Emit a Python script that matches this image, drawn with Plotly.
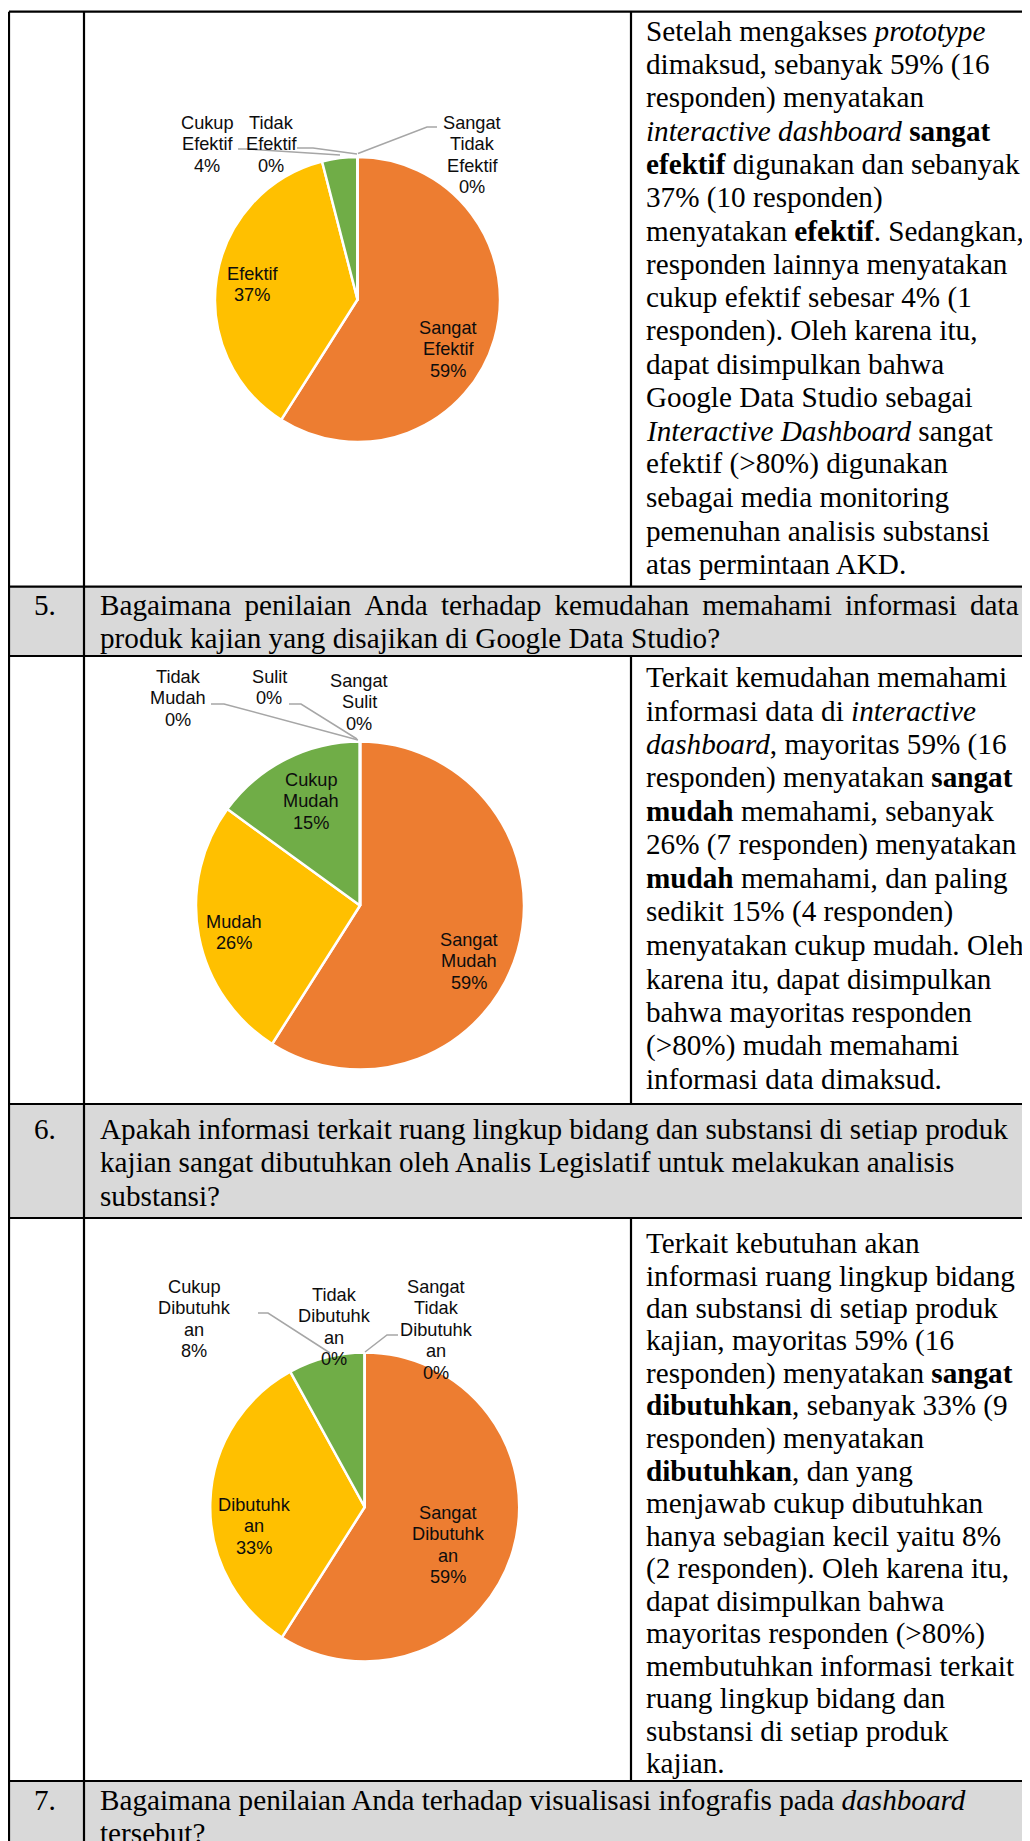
import plotly.graph_objects as go

W, H = 1030, 1841          # screenshot size
OFF = 8                    # default page (body) margin around the figure
FW, FH = W - OFF, H - OFF  # figure size so that it fills the window exactly

# ---------------- data ----------------
pie1_labels = ["Sangat Efektif", "Efektif", "Cukup Efektif", "Tidak Efektif", "Sangat Tidak Efektif"]
pie1_values = [59, 37, 4, 0, 0]

pie2_labels = ["Sangat Mudah", "Mudah", "Cukup Mudah", "Tidak Mudah", "Sulit", "Sangat Sulit"]
pie2_values = [59, 26, 15, 0, 0, 0]

pie3_labels = ["Sangat Dibutuhkan", "Dibutuhkan", "Cukup Dibutuhkan", "Tidak Dibutuhkan", "Sangat Tidak Dibutuhkan"]
pie3_values = [59, 33, 8, 0, 0]

slice_colors = ["#ED7D31", "#FFC000", "#70AD47", "#A5A5A5", "#4472C4", "#5B9BD5"]

q_numbers = ["5.", "6.", "7."]
q5_lines = ["Bagaimana penilaian Anda terhadap kemudahan memahami informasi data",
            "produk kajian yang disajikan di Google Data Studio?"]
q6_lines = ["Apakah informasi terkait ruang lingkup bidang dan substansi di setiap produk",
            "kajian sangat dibutuhkan oleh Analis Legislatif untuk melakukan analisis",
            "substansi?"]
q7_lines = ["Bagaimana penilaian Anda terhadap visualisasi infografis pada <i>dashboard</i>",
            "tersebut?"]

text4_lines = [
    "Setelah mengakses <i>prototype</i>",
    "dimaksud, sebanyak 59% (16",
    "responden) menyatakan",
    "<i>interactive dashboard</i> <b>sangat</b>",
    "<b>efektif</b> digunakan dan sebanyak",
    "37% (10 responden)",
    "menyatakan <b>efektif</b>. Sedangkan,",
    "responden lainnya menyatakan",
    "cukup efektif sebesar 4% (1",
    "responden). Oleh karena itu,",
    "dapat disimpulkan bahwa",
    "Google Data Studio sebagai",
    "<i>Interactive Dashboard</i> sangat",
    "efektif (&gt;80%) digunakan",
    "sebagai media monitoring",
    "pemenuhan analisis substansi",
    "atas permintaan AKD.",
]
text5_lines = [
    "Terkait kemudahan memahami",
    "informasi data di <i>interactive</i>",
    "<i>dashboard</i>, mayoritas 59% (16",
    "responden) menyatakan <b>sangat</b>",
    "<b>mudah</b> memahami, sebanyak",
    "26% (7 responden) menyatakan",
    "<b>mudah</b> memahami, dan paling",
    "sedikit 15% (4 responden)",
    "menyatakan cukup mudah. Oleh",
    "karena itu, dapat disimpulkan",
    "bahwa mayoritas responden",
    "(&gt;80%) mudah memahami",
    "informasi data dimaksud.",
]
text6_lines = [
    "Terkait kebutuhan akan",
    "informasi ruang lingkup bidang",
    "dan substansi di setiap produk",
    "kajian, mayoritas 59% (16",
    "responden) menyatakan <b>sangat</b>",
    "<b>dibutuhkan</b>, sebanyak 33% (9",
    "responden) menyatakan",
    "<b>dibutuhkan</b>, dan yang",
    "menjawab cukup dibutuhkan",
    "hanya sebagian kecil yaitu 8%",
    "(2 responden). Oleh karena itu,",
    "dapat disimpulkan bahwa",
    "mayoritas responden (&gt;80%)",
    "membutuhkan informasi terkait",
    "ruang lingkup bidang dan",
    "substansi di setiap produk",
    "kajian.",
]

# ---------------- layout config (positions in screenshot pixels) ----------------
X_LEFT, X_NUM, X_MID, X_RIGHT = 9, 84, 631, 1040
ROW_TOP = 11.7
HDR5 = (586.7, 656)
HDR6 = (1104, 1218)
HDR7 = (1781, 1860)

SERIF = "Liberation Serif, Times New Roman, serif"
SANS = "Liberation Sans, Arial, sans-serif"
BODY_SIZE = 29.2
LABEL_SIZE = 18.2
LABEL_STEP = 21.4

pies = [
    dict(labels=pie1_labels, values=pie1_values, cx=357.5, cy=299.5, r=142.5),
    dict(labels=pie2_labels, values=pie2_values, cx=360, cy=905.5, r=164),
    dict(labels=pie3_labels, values=pie3_values, cx=364.7, cy=1507, r=154.5),
]

# label placement: (x center, y of first line, wrapped lines)
label_layout = {
    "Sangat Efektif": (448, 328, ["Sangat", "Efektif"]),
    "Efektif": (252, 274, ["Efektif"]),
    "Cukup Efektif": (207, 123, ["Cukup", "Efektif"]),
    "Tidak Efektif": (271, 123, ["Tidak", "Efektif"]),
    "Sangat Tidak Efektif": (472, 123, ["Sangat", "Tidak", "Efektif"]),
    "Sangat Mudah": (469, 940, ["Sangat", "Mudah"]),
    "Mudah": (233.5, 922, ["Mudah"]),
    "Cukup Mudah": (311, 780, ["Cukup", "Mudah"]),
    "Tidak Mudah": (178, 677, ["Tidak", "Mudah"]),
    "Sulit": (269, 677, ["Sulit"]),
    "Sangat Sulit": (359, 681, ["Sangat", "Sulit"]),
    "Sangat Dibutuhkan": (448, 1513, ["Sangat", "Dibutuhk", "an"]),
    "Dibutuhkan": (254, 1505, ["Dibutuhk", "an"]),
    "Cukup Dibutuhkan": (194, 1287, ["Cukup", "Dibutuhk", "an"]),
    "Tidak Dibutuhkan": (334, 1295, ["Tidak", "Dibutuhk", "an"]),
    "Sangat Tidak Dibutuhkan": (436, 1287, ["Sangat", "Tidak", "Dibutuhk", "an"]),
}

leader_paths = [
    [(238, 149), (248, 149), (340, 155)],
    [(297, 148), (313, 148), (357, 154)],
    [(437, 127), (427, 127), (358, 153.5)],
    [(211, 704), (224, 704), (358, 740)],
    [(289, 704), (301, 704), (357, 739)],
    [(258, 1313), (268, 1313), (330, 1353)],
    [(398, 1335), (387, 1335), (365, 1352)],
]


def px(x):
    return (x - OFF) / FW


def py(y):
    return 1 - (y - OFF) / FH


fig = go.Figure()

shapes = []
annotations = []

# header backgrounds
for top, bot in (HDR5, HDR6, HDR7):
    shapes.append(dict(type="rect", xref="paper", yref="paper", x0=px(X_LEFT), x1=px(X_RIGHT),
                       y0=py(top), y1=py(bot), fillcolor="#D9D9D9", line=dict(width=0), layer="below"))

# pies
for p in pies:
    cx, cy, r = p["cx"], p["cy"], p["r"]
    fig.add_trace(go.Pie(
        labels=p["labels"], values=p["values"], sort=False, direction="clockwise", rotation=0,
        marker=dict(colors=slice_colors[:len(p["labels"])], line=dict(color="white", width=2.5)),
        textinfo="none", hoverinfo="label+percent", showlegend=False,
        domain=dict(x=[px(cx - r), px(cx + r)], y=[py(cy + r), py(cy - r)]),
    ))
    for lab, val in zip(p["labels"], p["values"]):
        lx, ly, lines = label_layout[lab]
        for i, t in enumerate(lines + [f"{val}%"]):
            annotations.append(dict(x=px(lx), y=py(ly + i * LABEL_STEP), xref="paper", yref="paper",
                                    text=t, showarrow=False, xanchor="center", yanchor="middle",
                                    font=dict(family=SANS, size=LABEL_SIZE, color="#0d0d0d")))

# leader lines
for path in leader_paths:
    d = "M " + " L ".join(f"{px(x)} {py(y)}" for x, y in path)
    shapes.append(dict(type="path", xref="paper", yref="paper", path=d,
                       line=dict(color="#A6A6A6", width=1.5)))

# table lines
LW = 2.2


def hline(y, x0=X_LEFT, x1=X_RIGHT):
    shapes.append(dict(type="line", xref="paper", yref="paper", x0=px(x0), x1=px(x1), y0=py(y), y1=py(y),
                       line=dict(color="black", width=LW)))


def vline(x, y0, y1):
    shapes.append(dict(type="line", xref="paper", yref="paper", x0=px(x), x1=px(x), y0=py(y0), y1=py(y1),
                       line=dict(color="black", width=LW)))


for y in (ROW_TOP, HDR5[0], HDR5[1], HDR6[0], HDR6[1], HDR7[0]):
    hline(y)
vline(X_LEFT, ROW_TOP, H + 20)
vline(X_NUM, ROW_TOP, H + 20)
vline(X_MID, ROW_TOP, HDR5[0])
vline(X_MID, HDR5[1], HDR6[0])
vline(X_MID, HDR6[1], HDR7[0])


def add_lines(lines, x, y0, step, anchor="left"):
    for i, t in enumerate(lines):
        annotations.append(dict(x=px(x), y=py(y0 + i * step), xref="paper", yref="paper", text=t,
                                showarrow=False, xanchor=anchor, yanchor="middle",
                                font=dict(family=SERIF, size=BODY_SIZE, color="black")))


# justified first line of question 5 (extra narrow space in each gap)
q5_display = [q5_lines[0].replace(" ", " \u2009"), q5_lines[1]]

TEXT_X = 644
HDR_X = 98
NUM_X = 45
add_lines(text4_lines, TEXT_X, 31, 33.3)
add_lines(q5_display, HDR_X, 605, 33.4)
add_lines([q_numbers[0]], NUM_X, 605, 33.4, "center")
add_lines(text5_lines, TEXT_X, 677, 33.5)
add_lines(q6_lines, HDR_X, 1129, 33.4)
add_lines([q_numbers[1]], NUM_X, 1129, 33.4, "center")
add_lines(text6_lines, TEXT_X, 1243, 32.5)
add_lines(q7_lines, HDR_X, 1800, 33.4)
add_lines([q_numbers[2]], NUM_X, 1800, 33.4, "center")

fig.update_layout(
    width=FW, height=FH, margin=dict(l=0, r=0, t=0, b=0),
    paper_bgcolor="white", plot_bgcolor="white",
    showlegend=False, shapes=shapes, annotations=annotations,
)

fig.write_html("out.html")
